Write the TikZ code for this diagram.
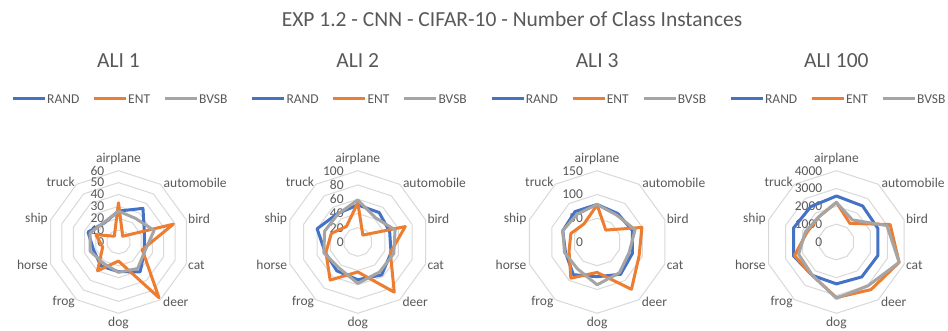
\documentclass[tikz,border=0pt]{standalone}
\usepackage{fontspec}
\setmainfont{Carlito}
\usetikzlibrary{calc}
\definecolor{cblue}{HTML}{4472C4}
\definecolor{corange}{HTML}{ED7D31}
\definecolor{cgray}{HTML}{A5A5A5}
\definecolor{ctext}{HTML}{595959}
\definecolor{cgrid}{HTML}{D9D9D9}
\tikzset{
  gridline/.style={draw=cgrid, line width=1pt},
  vallab/.style={text=ctext, font=\fontsize{13.5}{15}\selectfont, inner sep=0pt, anchor=east},
  catlab/.style={text=ctext, font=\fontsize{13.5}{15}\selectfont, inner sep=0pt},
  legtxt/.style={text=ctext, font=\fontsize{13.5}{15}\selectfont, inner sep=0pt, anchor=west},
  chtitle/.style={text=ctext, font=\fontsize{21.5}{24}\selectfont, inner sep=0pt},
  ser/.style={line width=3pt, line join=round},
  rand/.style={ser, draw=cblue},
  ent/.style={ser, draw=corange},
  bvsb/.style={ser, draw=cgray},
  legline/.style={line width=3pt},
}
% #1 id, #2 cx, #3 nrings, #4 value labels, #5 title
\newcommand\RadarGrid[5]{%
\begin{scope}[shift={(#2,242)}]
  \foreach \i in {1,...,#3}{%
    \pgfmathsetmacro\rr{71.3*\i/#3}
    \draw[gridline] (-90:\rr) \foreach \k in {1,...,9}{ -- ({-90+36*\k}:\rr)} -- cycle;
  }
  \foreach \lab [count=\i from 0] in {#4}{%
    \node[vallab] (#1v\i) at (-14,{-71.3*\i/#3}) {\lab};
  }
  \node[catlab,anchor=south] (#1c0) at (0,-77) {airplane};
  \node[catlab,anchor=west]  (#1c1) at (45,-59.5) {automobile};
  \node[catlab,anchor=west]  (#1c2) at (69.5,-23) {bird};
  \node[catlab,anchor=west]  (#1c3) at (69.5,23) {cat};
  \node[catlab,anchor=west]  (#1c4) at (44.5,60) {deer};
  \node[catlab,anchor=north] (#1c5) at (0,74.5) {dog};
  \node[catlab,anchor=east]  (#1c6) at (-43.5,60) {frog};
  \node[catlab,anchor=east]  (#1c7) at (-70.5,23) {horse};
  \node[catlab,anchor=east]  (#1c8) at (-70.5,-23) {ship};
  \node[catlab,anchor=east]  (#1c9) at (-43.5,-60) {truck};
  \node[chtitle] (#1t) at (0,-181) {#5};
\end{scope}
\begin{scope}[shift={({#2-118.5},0)}]
  \coordinate (#1la) at (13,99); \coordinate (#1lb) at (45,99);
  \draw[legline,cblue] (#1la) -- (#1lb);
  \node[legtxt] (#1lt1) at (47,99) {RAND};
  \coordinate (#1lc) at (94,99); \coordinate (#1ld) at (126,99);
  \draw[legline,corange] (#1lc) -- (#1ld);
  \node[legtxt] (#1lt2) at (128,99) {ENT};
  \coordinate (#1le) at (165,99); \coordinate (#1lf) at (197,99);
  \draw[legline,cgray] (#1le) -- (#1lf);
  \node[legtxt] (#1lt3) at (199,99) {BVSB};
\end{scope}
}
% #1 cx, #2 max, #3 style, #4 values
\newcommand\Series[4]{%
\begin{scope}[shift={(#1,242)}]
  \foreach \v [count=\k from 0] in {#4}{%
    \coordinate (q\k) at ({-90+36*\k}:{\v/#2*71.3});
  }
  \draw[#3] (q0) -- (q1) -- (q2) -- (q3) -- (q4) -- (q5) -- (q6) -- (q7) -- (q8) -- (q9) -- cycle;
\end{scope}
}
\begin{document}
\begin{tikzpicture}[x=1pt,y=-1pt]
\useasboundingbox[fill=white] (0,0) rectangle (948,331);
\node[chtitle,anchor=base] (title) at (512,27) {EXP 1.2 - CNN - CIFAR-10 - Number of Class Instances};

\RadarGrid{a}{118.5}{6}{0,10,20,30,40,50,60}{ALI 1}
\RadarGrid{b}{357.8}{5}{0,20,40,60,80,100}{ALI 2}
\RadarGrid{c}{597.1}{3}{0,50,100,150}{ALI 3}
\RadarGrid{d}{836.4}{4}{0,1000,2000,3000,4000}{ALI 100}

\Series{118.5}{60}{rand}{26,35,23,23,31,25,25,22,27,20}
\Series{118.5}{60}{ent}{33,6,48.5,21,58,16,30,14,20,6}
\Series{118.5}{60}{bvsb}{26,24.5,31.5,23.5,27.5,25.5,22,25,25,20.5}

\Series{357.8}{100}{rand}{52,51,47,49,57,53,50,48,60,49}
\Series{357.8}{100}{ent}{55,12,70,48,87,42,66,47,39,27}
\Series{357.8}{100}{bvsb}{59,42,55,53,52,58,45,50,49,48}

\Series{597.1}{150}{rand}{79,74,78,78,84,73,85,70,76,79}
\Series{597.1}{150}{ent}{78,31,99,93,123,64,94,62,58,47}
\Series{597.1}{150}{bvsb}{79,70,84,71,80,90,70,72,76,72}

\Series{836.4}{4000}{rand}{2580,2500,2450,2450,2420,2350,2310,2530,2530,2450}
\Series{836.4}{4000}{ent}{2220,1290,3170,3700,3300,3120,2310,2470,1740,1720}
\Series{836.4}{4000}{bvsb}{2220,1530,2980,3700,3030,3160,2300,2230,1830,1720}
\end{tikzpicture}
\end{document}
